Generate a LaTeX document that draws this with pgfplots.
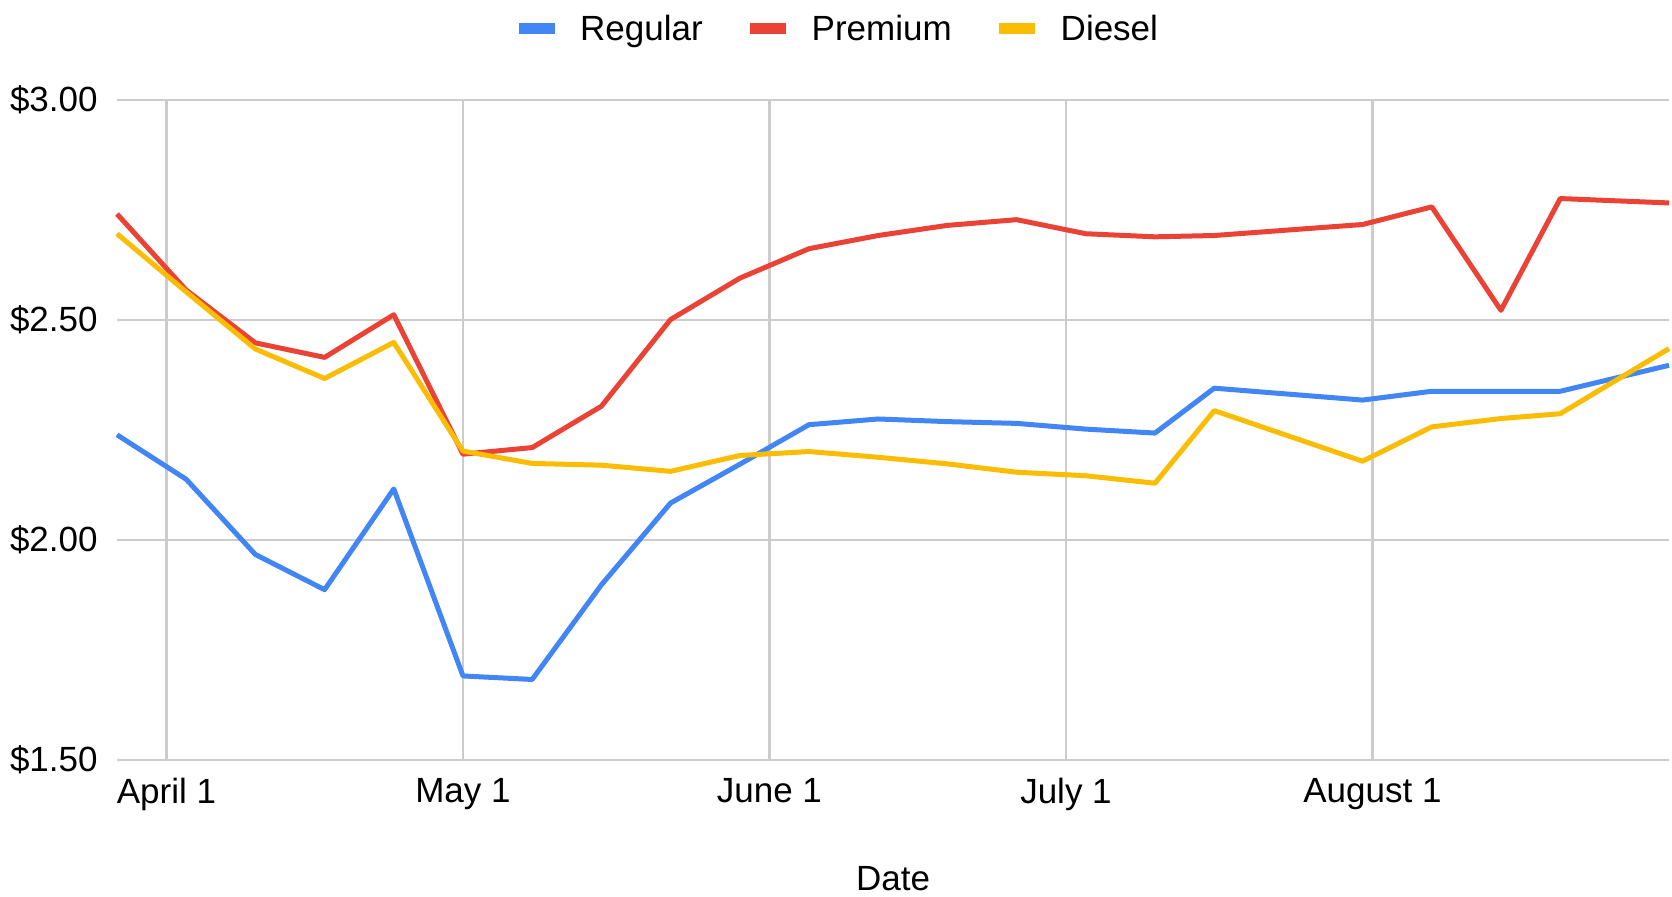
\documentclass[border=0pt]{standalone}
\usepackage{fontspec}
\setmainfont{Liberation Sans}
\usepackage{pgfplots}
\usepackage{pgfplotstable}
\pgfplotsset{compat=1.18}
\definecolor{gblue}{HTML}{4285F4}
\definecolor{gred}{HTML}{EA4335}
\definecolor{gyellow}{HTML}{FBBC04}
\definecolor{ggrid}{HTML}{CCCCCC}

% d = days after April 1
\pgfplotstableread{
d    reg    prem   dies
-5   2.239  2.741  2.696
2    2.138  2.568  2.564
9    1.967  2.448  2.434
16   1.887  2.415  2.367
23   2.116  2.512  2.449
30   1.691  2.195  2.202
37   1.683  2.210  2.174
44   1.898  2.304  2.170
51   2.084  2.501  2.156
58   2.172  2.595  2.192
65   2.262  2.662  2.201
72   2.275  2.692  2.188
79   2.269  2.715  2.173
86   2.265  2.728  2.154
93   2.252  2.696  2.146
100  2.243  2.689  2.129
106  2.345  2.692  2.294
121  2.318  2.717  2.179
128  2.338  2.757  2.257
135  2.338  2.522  2.276
141  2.338  2.776  2.287
152  2.397  2.766  2.435
}\datatable

\newcommand{\chartfont}{\fontsize{17.5}{21}\selectfont}

\begin{document}
\begin{tikzpicture}[x=1pt,y=1pt]
\useasboundingbox (0,0) rectangle (836,448.5);
\begin{axis}[
  at={(58.5pt,68.5pt)}, anchor=south west,
  width=776pt, height=330pt, scale only axis,
  xmin=-5, xmax=152, ymin=1.5, ymax=3,
  clip=false,
  xtick={0,30,61,91,122},
  xticklabels={April 1,May 1,June 1,July 1,August 1},
  ytick={1.5,2,2.5,3},
  yticklabels={\$1.50,\$2.00,\$2.50,\$3.00},
  grid=major,
  major grid style={ggrid, line width=1.2pt},
  axis line style={draw=none},
  major tick length=0pt,
  tick label style={font=\chartfont},
  yticklabel style={anchor=east, inner sep=0pt, xshift=-9.5pt},
  xticklabel style={anchor=north, inner sep=0pt, yshift=-9pt},
  xlabel={Date},
  xlabel style={font=\chartfont, at={(axis description cs:0.5,0)}, anchor=north, inner sep=0pt, yshift=-53pt},
  legend columns=3,
  legend style={at={(axis description cs:0.463,1.1076)}, anchor=center, draw=none, fill=none,
    font=\chartfont, inner sep=0pt, nodes={inner sep=0pt},
    /tikz/every even column/.append style={column sep=21pt}},
  legend image code/.code={\draw[#1, line width=5.5pt] (0pt,0pt) -- (18pt,0pt); \path (29.5pt,0pt);},
  legend cell align=left,
  every axis plot/.append style={line width=2.5pt, line join=round},
]
\addplot[gblue, no marks] table[x=d, y=reg] {\datatable};
\addlegendentry{Regular}
\addplot[gred, no marks] table[x=d, y=prem] {\datatable};
\addlegendentry{Premium}
\addplot[gyellow, no marks] table[x=d, y=dies] {\datatable};
\addlegendentry{Diesel}
\end{axis}
\end{tikzpicture}
\end{document}
